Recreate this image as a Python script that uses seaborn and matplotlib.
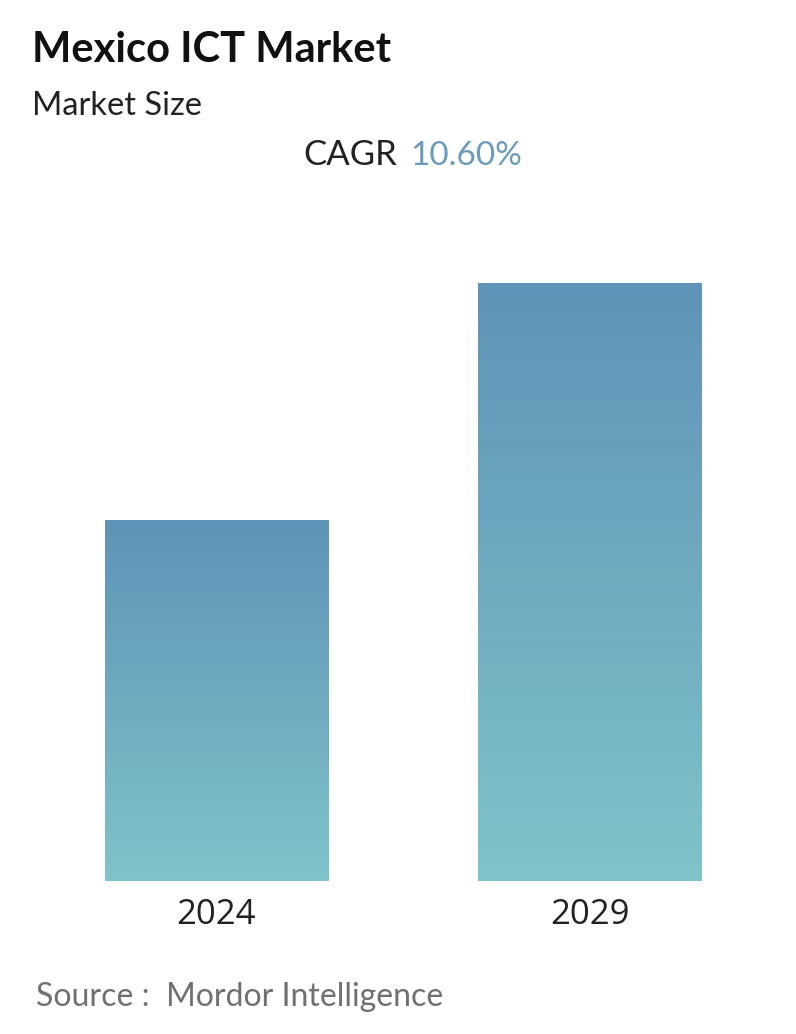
import matplotlib
matplotlib.use("Agg")
import matplotlib.pyplot as plt
import numpy as np
import pandas as pd
import seaborn as sns
from matplotlib.colors import LinearSegmentedColormap

# Data (bar heights, arbitrary units)
years = ["2024", "2029"]
market_size = [361, 598]
cagr_text = "10.60%"

TOP_COLOR = "#5f93b7"
BOTTOM_COLOR = "#80c3c9"

sns.set_theme(style="white")
plt.rcParams["font.family"] = ["Lato", "DejaVu Sans"]

W, H = 796, 1034
fig = plt.figure(figsize=(W / 100, H / 100), dpi=100)
ax = fig.add_axes([30 / W, (H - 881) / H, 746 / W, 650 / H])

df = pd.DataFrame({"year": years, "size": market_size})
sns.barplot(data=df, x="year", y="size", ax=ax, width=0.598,
            color=TOP_COLOR, saturation=1, linewidth=0)

# vertical gradient for each bar, clipped to the bar patch
cmap = LinearSegmentedColormap.from_list("grad", [BOTTOM_COLOR, TOP_COLOR])
grad = np.linspace(0, 1, 256).reshape(-1, 1)
for patch in ax.patches:
    x0, y0 = patch.get_x(), patch.get_y()
    w, h = patch.get_width(), patch.get_height()
    im = ax.imshow(grad, cmap=cmap, origin="lower", aspect="auto",
                   extent=[x0, x0 + w, y0, y0 + h], zorder=patch.get_zorder())
    im.set_clip_path(patch)
    patch.set_facecolor("none")
ax.set_xlim(-0.5, 1.5)
ax.set_ylim(0, 650)

ax.set_xlabel("")
ax.set_ylabel("")
ax.set_yticks([])
ax.tick_params(axis="x", length=0, pad=12, labelsize=25, labelcolor="#222222")
for lab in ax.get_xticklabels():
    lab.set_fontfamily(["Open Sans", "DejaVu Sans"])
sns.despine(ax=ax, left=True, bottom=True)

fig.text(32 / W, 1 - 62 / H, "Mexico ICT Market", fontsize=30, fontweight="bold",
         color="#111111", va="baseline", ha="left")
fig.text(32 / W, 1 - 115 / H, "Market Size", fontsize=23.5, color="#222222",
         va="baseline", ha="left")
fig.text(397 / W, 1 - 165 / H, "CAGR", fontsize=25, color="#222222",
         va="baseline", ha="right")
fig.text(410 / W, 1 - 165 / H, cagr_text, fontsize=24, color="#6a9bbb",
         va="baseline", ha="left")
fig.text(36 / W, 1 - 1006 / H, "Source :  Mordor Intelligence", fontsize=23,
         color="#707070", va="baseline", ha="left")

fig.savefig("out.png", dpi=100)
